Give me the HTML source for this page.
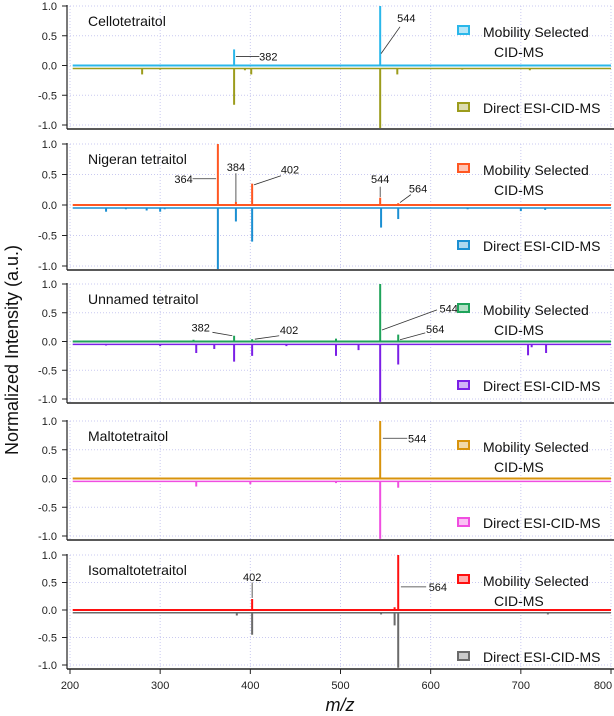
<!DOCTYPE html>
<html><head><meta charset="utf-8">
<style>
html,body{margin:0;padding:0;background:#fff;}
svg{display:block;font-family:"Liberation Sans",sans-serif;}
</style></head>
<body>
<svg id="chart" width="614" height="716" viewBox="0 0 614 716" xmlns="http://www.w3.org/2000/svg">
<text transform="translate(18,350) rotate(-90)" text-anchor="middle" font-size="18" fill="#111">Normalized Intensity (a.u.)</text>
<text x="340" y="711" text-anchor="middle" font-size="18" font-style="italic" fill="#111">m/z</text>
</svg>
<script>
const panelNames = ["Cellotetraitol","Nigeran tetraitol","Unnamed tetraitol","Maltotetraitol","Isomaltotetraitol"];
const mobColors = ["#2ab7ea","#ff5722","#1fa35a","#d8930c","#ff1010"];
const dirColors = ["#9c9c1c","#1b8fd2","#7b1fe6","#f04ee0","#6a6a6a"];
const xTicks = [200,300,400,500,600,700,800];
const yTicks = [1.0,0.5,0.0,-0.5,-1.0];
const yTickLabels = ["1.0","0.5","0.0","-0.5","-1.0"];
// mobility-selected peaks [m/z, intensity]
const mobPeaks = [
  [[382,0.27],[544,1.0]],
  [[364,1.0],[384,0.05],[402,0.35],[544,0.12],[564,0.03]],
  [[337,0.03],[382,0.1],[402,0.04],[495,0.05],[544,1.0],[564,0.12]],
  [[544,1.0]],
  [[402,0.2],[560,0.05],[564,1.0]]
];
// direct ESI peaks [m/z, intensity] (negative)
const dirPeaks = [
  [[280,-0.15],[300,-0.07],[382,-0.66],[394,-0.08],[401,-0.15],[544,-1.05],[563,-0.15],[635,-0.07],[710,-0.08]],
  [[240,-0.11],[262,-0.07],[285,-0.09],[300,-0.11],[305,-0.07],[364,-1.05],[384,-0.27],[402,-0.6],[545,-0.37],[564,-0.23],[641,-0.07],[700,-0.1],[727,-0.08]],
  [[240,-0.07],[300,-0.08],[340,-0.2],[360,-0.13],[382,-0.35],[402,-0.25],[440,-0.08],[495,-0.25],[520,-0.15],[544,-1.05],[564,-0.4],[708,-0.24],[712,-0.1],[728,-0.2]],
  [[240,-0.06],[340,-0.14],[400,-0.1],[495,-0.08],[544,-1.05],[564,-0.16],[700,-0.06]],
  [[240,-0.06],[300,-0.06],[342,-0.06],[385,-0.1],[402,-0.45],[545,-0.08],[560,-0.28],[564,-1.05],[700,-0.06],[730,-0.08]]
];
// annotations: [label, peak m/z, peak value, label m/z, label value, line-start m/z, line-start value, line-end m/z, line-end value]
const annotations = [
  [["382",382,0.27,420,0.15,384,0.15,410,0.15],["544",544,1.0,573,0.8,545,0.2,566,0.65]],
  [["364",364,1.0,326,0.43,336,0.43,362,0.43],["384",384,0.05,384,0.62,384,0.52,384,0.05],["402",402,0.35,444,0.58,404,0.33,434,0.48],["544",544,0.12,544,0.43,544,0.3,544,0.13],["564",564,0.03,586,0.27,566,0.04,578,0.17]],
  [["382",382,0.1,345,0.24,358,0.16,380,0.1],["402",402,0.04,443,0.2,405,0.04,432,0.1],["544",544,1.0,620,0.57,546,0.2,607,0.55],["564",564,0.12,605,0.22,566,0.03,594,0.15]],
  [["544",544,1.0,585,0.7,547,0.7,574,0.7]],
  [["402",402,0.2,402,0.6,402,0.5,402,0.22],["564",564,1.0,608,0.42,567,0.42,595,0.42]]
];
const panelTop = [6,144,284,421,555];   // pixel y of 1.0
const panelSpan = [119,122,115,115,110]; // pixels from 1.0 to -1.0
const X0 = 70, X1 = 611;
function xs(m){ return X0 + (m-200)/600*(X1-X0); }
const svg = document.getElementById('chart');
const NS = "http://www.w3.org/2000/svg";
function mk(tag, attrs){ const e=document.createElementNS(NS,tag); for(const k in attrs) e.setAttribute(k,attrs[k]); svg.appendChild(e); return e; }

panelNames.forEach((name,i)=>{
  const ys = v => panelTop[i] + (1-v)/2*panelSpan[i];
  const bottom = ys(-1)+4;
  xTicks.forEach(t=>{
    const g=mk('line',{x1:xs(t),x2:xs(t),y1:ys(1),y2:bottom,stroke:'#c9c9f0','stroke-dasharray':'1,2','stroke-width':1});
    
    
  });
  yTicks.forEach((t,j)=>{
    const g=mk('line',{x1:67,x2:612,y1:ys(t),y2:ys(t),stroke:'#c9c9f0','stroke-dasharray':'1,2','stroke-width':1});
    
    
    const tk=mk('line',{x1:62,x2:67,y1:ys(t),y2:ys(t),stroke:'#222','stroke-width':1});
    
    
    const tl=mk('text',{x:57,y:ys(t)+4,'text-anchor':'end','font-size':11,fill:'#222'});
    tl.textContent=yTickLabels[j];
    
    
  });
  const ax=mk('line',{x1:67,x2:67,y1:ys(1)-1,y2:bottom,stroke:'#222','stroke-width':1.2});
  
  
  const bx=mk('line',{x1:67,x2:614,y1:bottom,y2:bottom,stroke:'#222','stroke-width':1.5});
  
  
  if(i===4){
    xTicks.forEach(t=>{
      const tk=mk('line',{x1:xs(t),x2:xs(t),y1:bottom,y2:bottom+5,stroke:'#222'});
      
      
      const tl=mk('text',{x:Math.min(xs(t),603),y:bottom+20,'text-anchor':'middle','font-size':11,fill:'#222'});
      tl.textContent=String(t);
      
      
    });
  }
  const base = -0.05;
  const db=mk('line',{x1:xs(203),x2:xs(800),y1:ys(base),y2:ys(base),stroke:dirColors[i],'stroke-width':1.5});
  
  
  dirPeaks[i].forEach(p=>{
    const l=mk('line',{x1:xs(p[0]),x2:xs(p[0]),y1:ys(base),y2:ys(p[1]),stroke:dirColors[i],'stroke-width':2});
    
    
  });
  const mb=mk('line',{x1:xs(203),x2:xs(800),y1:ys(0),y2:ys(0),stroke:mobColors[i],'stroke-width':2});
  
  
  mobPeaks[i].forEach(p=>{
    const l=mk('line',{x1:xs(p[0]),x2:xs(p[0]),y1:ys(0),y2:ys(p[1]),stroke:mobColors[i],'stroke-width':2});
    
    
  });
  annotations[i].forEach(a=>{
    const l=mk('line',{x1:xs(a[5]),y1:ys(a[6]),x2:xs(a[7]),y2:ys(a[8]),stroke:'#333','stroke-width':0.8});
    
    
    const t=mk('text',{x:xs(a[3]),y:ys(a[4])+4,'text-anchor':'middle','font-size':11,fill:'#111'});
    t.textContent=a[0];
    
    
  });
  const tt=mk('text',{x:88,y:ys(1)+20,'font-size':14,fill:'#111'});
  tt.textContent=name;
  
  
  const s1=mk('rect',{x:458,y:ys(1)+20,width:11,height:8,fill:mobColors[i],'fill-opacity':0.35,stroke:mobColors[i],'stroke-width':2});
  
  
  const t1=mk('text',{x:483,y:ys(1)+31,'font-size':14,fill:'#111'});
  t1.textContent='Mobility Selected';
  
  
  const t2=mk('text',{x:494,y:ys(1)+51,'font-size':14,fill:'#111'});
  t2.textContent='CID-MS';
  
  
  const s2=mk('rect',{x:458,y:ys(1)+97,width:11,height:8,fill:dirColors[i],'fill-opacity':0.35,stroke:dirColors[i],'stroke-width':2});
  
  
  const t3=mk('text',{x:483,y:ys(1)+107,'font-size':14,fill:'#111'});
  t3.textContent='Direct ESI-CID-MS';
  
  
});
</script>
</body></html>
